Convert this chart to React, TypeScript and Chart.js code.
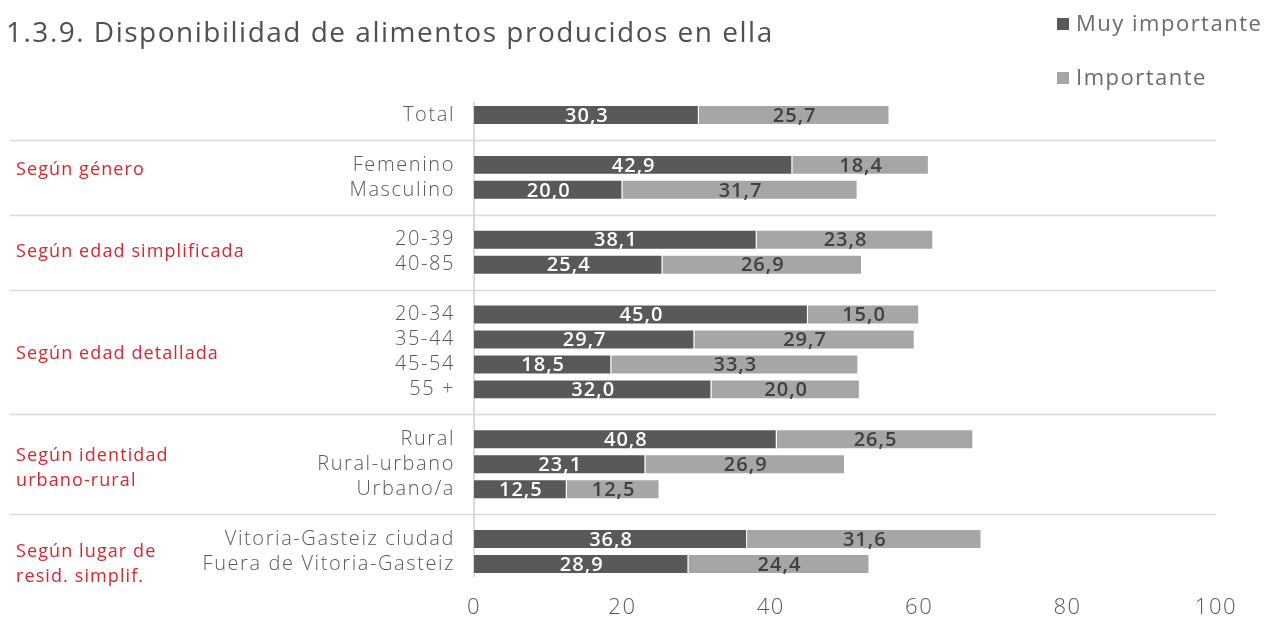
import React, { useEffect, useRef } from "react";
import { Chart, registerables } from "chart.js";

Chart.register(...registerables);

const categories = [
  "Total", "",
  "Femenino", "Masculino", "",
  "20-39", "40-85", "",
  "20-34", "35-44", "45-54", "55 +", "",
  "Rural", "Rural-urbano", "Urbano/a", "",
  "Vitoria-Gasteiz ciudad", "Fuera de Vitoria-Gasteiz",
];
const muyImportante = [30.3, null, 42.9, 20.0, null, 38.1, 25.4, null, 45.0, 29.7, 18.5, 32.0, null, 40.8, 23.1, 12.5, null, 36.8, 28.9];
const importante = [25.7, null, 18.4, 31.7, null, 23.8, 26.9, null, 15.0, 29.7, 33.3, 20.0, null, 26.5, 26.9, 12.5, null, 31.6, 24.4];
const seriesNames = ["Muy importante", "Importante"];
const xTicks = [0, 20, 40, 60, 80, 100];
const groupLabels = [
  { lines: ["Según género"], at: 2.2 },
  { lines: ["Según edad simplificada"], at: 5.49 },
  { lines: ["Según edad detallada"], at: 9.58 },
  { lines: ["Según identidad", "urbano-rural"], at: 13.67 },
  { lines: ["Según lugar de", "resid. simplif."], at: 17.52 },
];
const titleText = "1.3.9. Disponibilidad de alimentos producidos en ella";

const DARK = "#595959";
const LIGHT = "#a6a6a6";
const FONT = "'Open Sans', sans-serif";

const spacing = {
  id: "spacing",
  beforeDraw(chart: any) {
    chart.ctx.letterSpacing = "1.6px";
  },
};

const overlay = {
  id: "overlay",
  afterDraw(chart: any) {
    const ctx = chart.ctx;
    const y = chart.scales.y;
    const area = chart.chartArea;
    ctx.save();
    // separators at empty rows
    ctx.strokeStyle = "#d9d9d9";
    ctx.lineWidth = 1.5;
    categories.forEach((c, i) => {
      if (c === "") {
        const py = Math.round(y.getPixelForValue(i)) + 0.5;
        ctx.beginPath();
        ctx.moveTo(10, py);
        ctx.lineTo(area.right, py);
        ctx.stroke();
      }
    });
    // group labels
    ctx.fillStyle = "#d9262e";
    ctx.font = `18px ${FONT}`;
    ctx.letterSpacing = "1.1px";
    ctx.textAlign = "left";
    ctx.textBaseline = "middle";
    const step = y.getPixelForValue(1) - y.getPixelForValue(0);
    groupLabels.forEach((g) => {
      const py = y.getPixelForValue(g.at);
      g.lines.forEach((l, k) => ctx.fillText(l, 16, py + k * step));
    });
    // data labels
    ctx.font = `600 20px ${FONT}`;
    ctx.letterSpacing = "1px";
    ctx.textAlign = "center";
    chart.data.datasets.forEach((ds: any, di: number) => {
      const meta = chart.getDatasetMeta(di);
      meta.data.forEach((bar: any, i: number) => {
        const v = ds.data[i];
        if (v == null) return;
        const cx = (bar.x + bar.base) / 2;
        ctx.fillStyle = di === 0 ? "#ffffff" : "#404040";
        ctx.fillText(v.toFixed(1).replace(".", ","), cx + 0.5, bar.y + 1);
      });
    });
    // title
    ctx.fillStyle = "#505050";
    ctx.font = `500 28px ${FONT}`;
    ctx.letterSpacing = "1.5px";
    ctx.textAlign = "left";
    ctx.fillText(titleText, 6, 34);
    // legend
    ctx.font = `22px ${FONT}`;
    ctx.letterSpacing = "1.5px";
    const leg = [
      { y: 24, c: DARK },
      { y: 78, c: LIGHT },
    ];
    leg.forEach((l, k) => {
      ctx.fillStyle = l.c;
      ctx.fillRect(1057, l.y - 6, 12, 12);
      ctx.fillStyle = "#6b6b6b";
      ctx.fillText(seriesNames[k], 1076, l.y + 1);
    });
    ctx.restore();
  },
};

export default function App() {
  const ref = useRef<HTMLCanvasElement>(null);
  useEffect(() => {
    if (!ref.current) return;
    const chart = new Chart(ref.current, {
      type: "bar",
      data: {
        labels: categories,
        datasets: [
          { label: seriesNames[0], data: muyImportante, backgroundColor: DARK, borderColor: "rgba(255,255,255,0.7)", borderWidth: 1, barPercentage: 0.8, categoryPercentage: 1 },
          { label: seriesNames[1], data: importante, backgroundColor: LIGHT, borderColor: "rgba(255,255,255,0.7)", borderWidth: 1, barPercentage: 0.8, categoryPercentage: 1 },
        ],
      },
      plugins: [spacing, overlay],
      options: {
        indexAxis: "y",
        animation: false,
        responsive: false,
        maintainAspectRatio: false,
        layout: { padding: { top: 102.5, right: 48, left: 0, bottom: 0 } },
        plugins: { legend: { display: false }, title: { display: false }, tooltip: { enabled: false } },
        scales: {
          x: {
            stacked: true,
            min: 0,
            max: 100,
            afterBuildTicks: (s: any) => { s.ticks = xTicks.map((v) => ({ value: v })); },
            afterFit: (s: any) => { s.height = 40.5; },
            grid: { display: false },
            border: { display: false },
            ticks: { color: "#595959", font: { family: FONT, size: 22, weight: "300" }, padding: 10 },
          },
          y: {
            stacked: true,
            afterFit: (s: any) => { s.width = 474; },
            grid: { display: false, drawTicks: false },
            border: { display: true, color: "#d9d9d9", width: 2 },
            ticks: { color: "#595959", font: { family: FONT, size: 20, weight: "300" }, padding: 19, autoSkip: false },
          },
        },
      },
    });
    return () => chart.destroy();
  }, []);
  return (
    <div style={{ position: "fixed", left: 0, top: 0, width: 1264, height: 617, background: "#fff" }}>
      <canvas ref={ref} width={1264} height={617} style={{ display: "block" }} />
    </div>
  );
}
